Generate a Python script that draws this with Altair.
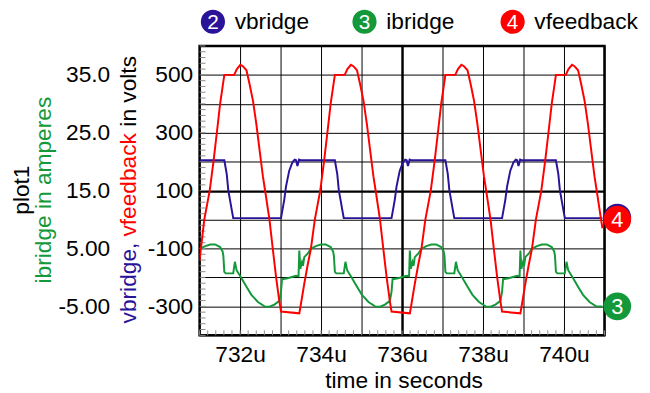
import altair as alt
import pandas as pd

# ---------------- data ----------------
# time in microseconds, volts
VBRIDGE = [
    (731.000, 205), (731.611, 205), (731.670, 158), (731.709, 101), (731.750, 69), (731.792, 35), (731.831, 5),
    (733.011, 5), (733.092, 69), (733.133, 113), (733.214, 169), (733.294, 198), (733.348, 207), (733.385, 205),
    (733.416, 185), (733.458, 207), (733.494, 205),
    (734.341, 205), (734.400, 158), (734.439, 101), (734.480, 69), (734.522, 35), (734.561, 5),
    (735.741, 5), (735.822, 69), (735.863, 113), (735.944, 169), (736.024, 198), (736.078, 207), (736.115, 205),
    (736.146, 185), (736.188, 207), (736.224, 205),
    (737.071, 205), (737.130, 158), (737.169, 101), (737.210, 69), (737.252, 35), (737.291, 5),
    (738.471, 5), (738.552, 69), (738.593, 113), (738.674, 169), (738.754, 198), (738.808, 207), (738.845, 205),
    (738.876, 185), (738.918, 207), (738.954, 205),
    (739.801, 205), (739.860, 158), (739.899, 101), (739.940, 69), (739.982, 35), (740.021, 5), (740.950, 5),
]

# time in microseconds, amperes
IBRIDGE = [
    (731.000, 4.95), (731.141, 5.4), (731.263, 5.7), (731.385, 5.7), (731.507, 5.25), (731.568, 4.5),
    (731.587, 3.75), (731.611, 0.95), (731.646, 0.7), (731.831, 0.7), (731.872, 2.7), (731.914, 1.25),
    (732.036, -0.15), (732.158, -1.6), (732.280, -3.0), (732.441, -4.25), (732.604, -5.0), (732.726, -5.05),
    (732.848, -4.7), (732.970, -4.05), (733.011, -2.45), (733.036, -0.3), (733.172, -0.15),
    (733.383, 0.3), (733.444, 0.2), (733.463, 4.65), (733.488, 1.5), (733.529, 2.65), (733.554, 2.0),
    (733.585, 3.5), (733.668, 4.1), (733.749, 4.95), (733.871, 5.4), (733.993, 5.7), (734.115, 5.7),
    (734.237, 5.25), (734.298, 4.5), (734.317, 3.75), (734.341, 0.95), (734.376, 0.7), (734.561, 0.7),
    (734.602, 2.7), (734.644, 1.25), (734.766, -0.15), (734.888, -1.6), (735.010, -3.0), (735.171, -4.25),
    (735.334, -5.0), (735.456, -5.05), (735.578, -4.7), (735.700, -4.05), (735.741, -2.45), (735.766, -0.3),
    (735.902, -0.15),
    (736.113, 0.3), (736.174, 0.2), (736.193, 4.65), (736.218, 1.5), (736.259, 2.65), (736.284, 2.0),
    (736.315, 3.5), (736.398, 4.1), (736.479, 4.95), (736.601, 5.4), (736.723, 5.7), (736.845, 5.7),
    (736.967, 5.25), (737.028, 4.5), (737.047, 3.75), (737.071, 0.95), (737.106, 0.7), (737.291, 0.7),
    (737.332, 2.7), (737.374, 1.25), (737.496, -0.15), (737.618, -1.6), (737.740, -3.0), (737.901, -4.25),
    (738.064, -5.0), (738.186, -5.05), (738.308, -4.7), (738.430, -4.05), (738.471, -2.45), (738.496, -0.3),
    (738.632, -0.15),
    (738.843, 0.3), (738.904, 0.2), (738.923, 4.65), (738.948, 1.5), (738.989, 2.65), (739.014, 2.0),
    (739.045, 3.5), (739.128, 4.1), (739.209, 4.95), (739.331, 5.4), (739.453, 5.7), (739.575, 5.7),
    (739.697, 5.25), (739.758, 4.5), (739.777, 3.75), (739.801, 0.95), (739.836, 0.7), (740.021, 0.7),
    (740.062, 2.7), (740.104, 1.25), (740.226, -0.15), (740.348, -1.6), (740.470, -3.0), (740.631, -4.25),
    (740.794, -5.0), (740.950, -5.0),
]

# time in microseconds, volts
VFEEDBACK = [
    (731.000, -140), (731.116, 0), (731.250, 100), (731.343, 200), (731.426, 300), (731.507, 400),
    (731.611, 500), (731.855, 500), (731.921, 520), (732.007, 535), (732.068, 530), (732.158, 516),
    (732.238, 466), (732.319, 410), (732.402, 330), (732.482, 240), (732.563, 150), (732.629, 90),
    (732.726, 0), (732.807, -100), (732.890, -200), (732.970, -283), (733.011, -318), (733.463, -324),
    (733.505, -290), (733.585, -222), (733.668, -158), (733.749, -101), (733.846, 0), (733.980, 100),
    (734.073, 200), (734.156, 300), (734.237, 400), (734.341, 500), (734.585, 500), (734.651, 520),
    (734.737, 535), (734.798, 530), (734.888, 516), (734.968, 466), (735.049, 410), (735.132, 330),
    (735.212, 240), (735.293, 150), (735.359, 90), (735.456, 0), (735.537, -100), (735.620, -200),
    (735.700, -283), (735.741, -318), (736.193, -324),
    (736.235, -290), (736.315, -222), (736.398, -158), (736.479, -101), (736.576, 0), (736.710, 100),
    (736.803, 200), (736.886, 300), (736.967, 400), (737.071, 500), (737.315, 500), (737.381, 520),
    (737.467, 535), (737.528, 530), (737.618, 516), (737.698, 466), (737.779, 410), (737.862, 330),
    (737.942, 240), (738.023, 150), (738.089, 90), (738.186, 0), (738.267, -100), (738.350, -200),
    (738.430, -283), (738.471, -318), (738.923, -324),
    (738.965, -290), (739.045, -222), (739.128, -158), (739.209, -101), (739.306, 0), (739.440, 100),
    (739.533, 200), (739.616, 300), (739.697, 400), (739.801, 500), (740.045, 500), (740.111, 520),
    (740.197, 535), (740.258, 530), (740.348, 516), (740.428, 466), (740.509, 410), (740.592, 330),
    (740.672, 240), (740.753, 150), (740.819, 90), (740.916, 0), (740.950, -30),
]

# end-of-trace markers (series, number, value at right edge)
END_V = [("vbridge", "2", 7), ("vfeedback", "4", 0)]
END_I = [("ibridge", "3", -5)]

X_DOMAIN = [731, 741]
V_DOMAIN = [-400, 600]
I_DOMAIN = [-10, 40]
X_GRID = list(range(731, 742))
V_GRID = list(range(-400, 601, 100))
I_LABELS = [-5, 5, 15, 25, 35]
X_MINOR = [round(731 + 0.2 * k, 1) for k in range(51)]
V_MINOR = [-400 + 20 * k for k in range(51)]

LEGEND_NUM = ["2", "3", "4"]
LEGEND_TXT = ["vbridge", "ibridge", "vfeedback"]

# ---------------- style ----------------
BLUE = "#2b1399"
GREEN = "#13993a"
RED = "#ff0000"
FONT = "Liberation Sans"
W, H = 410, 293
FS = 23

xs = alt.Scale(domain=X_DOMAIN, nice=False, zero=False)
vs = alt.Scale(domain=V_DOMAIN, nice=False, zero=False)
iscale = alt.Scale(domain=I_DOMAIN, nice=False, zero=False)

x_axis = alt.Axis(
    values=X_GRID, grid=True, gridColor="black", gridOpacity=1,
    gridWidth={"condition": {"test": "datum.value == 736", "value": 2.5}, "value": 1},
    ticks=False, domain=False, title=None, labelOverlap=False, labelFlush=False,
    labelExpr="datum.value % 2 == 0 ? datum.value + 'u' : ''",
    labelFont=FONT, labelFontSize=FS, labelColor="black", labelPadding=9,
)
v_axis = alt.Axis(
    orient="left", values=V_GRID, grid=True, gridColor="black", gridOpacity=1,
    gridWidth={"condition": {"test": "datum.value == 100", "value": 2.5}, "value": 1},
    ticks=False, domain=False, title=None, labelOverlap=False, labelFlush=False,
    labelExpr="abs(datum.value % 200) == 100 ? datum.value + '' : ''",
    labelFont=FONT, labelFontSize=FS, labelColor="black", labelPadding=7,
)
i_axis = alt.Axis(
    orient="left", values=I_LABELS, grid=False, ticks=False, domain=False, title=None,
    labelOverlap=False, labelFlush=False, offset=84, labelPadding=7,
    labelExpr="datum.value == 5 ? '5.00' : (datum.value == -5 ? '-5.00' : datum.value + '.0')",
    labelFont=FONT, labelFontSize=FS, labelColor="black",
)

X = alt.X("t:Q", scale=xs, axis=x_axis)

df_vb = pd.DataFrame(VBRIDGE, columns=["t", "v"])
df_ib = pd.DataFrame(IBRIDGE, columns=["t", "i"])
df_vf = pd.DataFrame(VFEEDBACK, columns=["t", "v"])

# minor ticks inside the frame
minor_x = alt.Chart(pd.DataFrame({"t": X_MINOR})).mark_rule(color="#8c8c8c", strokeWidth=1).encode(
    x=X, y=alt.value(H), y2=alt.value(H - 5))
minor_y = alt.Chart(pd.DataFrame({"v": V_MINOR})).mark_rule(color="#8c8c8c", strokeWidth=1).encode(
    y=alt.Y("v:Q", scale=vs, axis=None), x=alt.value(0), x2=alt.value(6))

line_vb = alt.Chart(df_vb).mark_line(color=BLUE, strokeWidth=2, clip=True).encode(
    x=X, y=alt.Y("v:Q", scale=vs, axis=None))
line_ib = alt.Chart(df_ib).mark_line(color=GREEN, strokeWidth=2, clip=True).encode(
    x=X, y=alt.Y("i:Q", scale=iscale, axis=i_axis))
line_vf = alt.Chart(df_vf).mark_line(color=RED, strokeWidth=2, clip=True).encode(
    x=X, y=alt.Y("v:Q", scale=vs, axis=v_axis))

# end markers (the vbridge marker sits behind the vfeedback one, its digit hidden)
df_end_v = pd.DataFrame([(X_DOMAIN[1], s, n, v) for s, n, v in END_V], columns=["t", "s", "n", "v"])
df_end_i = pd.DataFrame([(X_DOMAIN[1], s, n, v) for s, n, v in END_I], columns=["t", "s", "n", "i"])
end_layers = []
for s, col, show_digit in [("vbridge", BLUE, False), ("vfeedback", RED, True)]:
    d = df_end_v[df_end_v.s == s]
    base = alt.Chart(d).encode(x=X, y=alt.Y("v:Q", scale=vs, axis=None))
    end_layers.append(base.mark_point(filled=True, shape="circle", size=784, color=col, opacity=1, xOffset=13))
    if show_digit:
        end_layers.append(base.mark_text(color="white", fontSize=22, font=FONT, xOffset=13, yOffset=1)
                          .encode(text="n:N"))
base_i = alt.Chart(df_end_i).encode(x=X, y=alt.Y("i:Q", scale=iscale, axis=None))
end_layers.append(base_i.mark_point(filled=True, shape="circle", size=784, color=GREEN, opacity=1, xOffset=13))
end_layers.append(base_i.mark_text(color="white", fontSize=22, font=FONT, xOffset=13, yOffset=1).encode(text="n:N"))

# legend (top)
one = pd.DataFrame({"a": [0]})
LEG_Y = -24.5
legend_layers = []
for num, txt, col, cx in zip(LEGEND_NUM, LEGEND_TXT, [BLUE, GREEN, RED], [13.5, 167, 317]):
    legend_layers.append(alt.Chart(one).mark_point(filled=True, shape="circle", size=600, color=col, opacity=1)
                         .encode(x=alt.value(cx), y=alt.value(LEG_Y)))
    legend_layers.append(alt.Chart(one).mark_text(text=num, color="white", fontSize=21, font=FONT)
                         .encode(x=alt.value(cx), y=alt.value(LEG_Y + 1)))
    legend_layers.append(alt.Chart(one).mark_text(text=txt, color="black", fontSize=FS, font=FONT, align="left")
                         .encode(x=alt.value(cx + 22), y=alt.value(LEG_Y)))

# titles
def vtext(text, x, y, color, align="center"):
    return alt.Chart(one).mark_text(text=text, color=color, fontSize=FS, font=FONT, angle=270,
                                    align=align, baseline="middle").encode(x=alt.value(x), y=alt.value(y))

titles = [
    vtext("plot1", -179.8, 146, "black"),
    vtext("ibridge in amperes", -157.8, 146, GREEN),
    vtext("vbridge,", -71.6, 281, BLUE, "left"),
    vtext("vfeedback", -71.6, 193, RED, "left"),
    vtext("in volts", -71.6, 81.7, "black", "left"),
    alt.Chart(one).mark_text(text="time in seconds", color="black", fontSize=FS, font=FONT,
                             align="center", baseline="alphabetic").encode(x=alt.value(207), y=alt.value(346)),
]

chart = alt.layer(
    minor_x, minor_y, line_vb, line_ib, line_vf, *end_layers, *legend_layers, *titles
).resolve_scale(y="independent").properties(
    width=W, height=H,
    autosize=alt.AutoSizeParams(type="none"),
    padding={"left": 194, "top": 36, "right": 38, "bottom": 56},
).configure_view(stroke="black", strokeWidth=2.5)

chart.save("out.html", embed_options={"renderer": "svg", "actions": False})
